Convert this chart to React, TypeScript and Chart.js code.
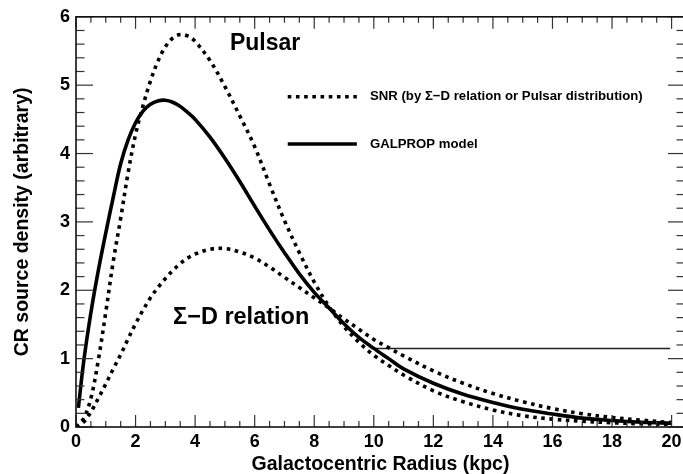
import React, { useEffect, useRef } from "react";
import { Chart, registerables } from "chart.js";

Chart.register(...registerables);

// ---------------- data ----------------
const radius = [0, 0.25, 0.5, 0.75, 1, 1.25, 1.5, 1.75, 2, 2.25, 2.5, 2.75, 3, 3.25, 3.5, 3.75, 4, 4.5, 5, 5.5, 6, 6.5, 7, 7.5, 8, 8.5, 9, 9.5, 10, 10.5, 11, 12, 13, 14, 15, 16, 17, 18, 19, 20];

const pulsar = [0, 0.12, 0.42, 0.98, 1.68, 2.42, 3.05, 3.72, 4.28, 4.7, 5.06, 5.35, 5.56, 5.69, 5.74, 5.72, 5.64, 5.36, 4.98, 4.55, 4.1, 3.55, 3.02, 2.55, 2.12, 1.76, 1.47, 1.24, 1.05, 0.9, 0.76, 0.53, 0.37, 0.25, 0.165, 0.115, 0.085, 0.062, 0.047, 0.036];

const sigmaD = [0, 0.07, 0.22, 0.42, 0.63, 0.85, 1.06, 1.29, 1.51, 1.71, 1.89, 2.04, 2.17, 2.29, 2.39, 2.47, 2.53, 2.6, 2.61, 2.56, 2.47, 2.34, 2.19, 2.04, 1.89, 1.74, 1.58, 1.43, 1.28, 1.16, 1.04, 0.82, 0.64, 0.49, 0.37, 0.27, 0.195, 0.14, 0.1, 0.065];

const galpropRadius = [0.08, 0.25, 0.5, 0.75, 1, 1.25, 1.5, 1.75, 2, 2.25, 2.5, 2.75, 3, 3.25, 3.5, 3.75, 4, 4.5, 5, 5.5, 6, 6.5, 7, 7.5, 8, 8.5, 9, 9.5, 10, 10.5, 11, 12, 13, 14, 15, 16, 17, 18, 19, 20];

const galprop = [0.28, 0.93, 1.67, 2.29, 2.84, 3.36, 3.85, 4.2, 4.45, 4.62, 4.72, 4.77, 4.78, 4.75, 4.69, 4.6, 4.5, 4.24, 3.93, 3.59, 3.23, 2.88, 2.55, 2.24, 1.97, 1.74, 1.51, 1.31, 1.15, 1.0, 0.85, 0.64, 0.48, 0.36, 0.26, 0.19, 0.13, 0.095, 0.07, 0.055];

const markerRadius = [10.0, 19.95];
const markerLevel = [1.15, 1.15];

const xTickValues = [0, 2, 4, 6, 8, 10, 12, 14, 16, 18, 20];
const yTickValues = [0, 1, 2, 3, 4, 5, 6];

const xTitle = "Galactocentric Radius (kpc)";
const yTitle = "CR source density (arbitrary)";
const pulsarLabel = "Pulsar";
const sigmaLabel = "\u03A3\u2212D relation";
const legendSnr = "SNR (by \u03A3\u2212D relation or Pulsar distribution)";
const legendGalprop = "GALPROP model";

// ---------------- styling ----------------
const FONT = '"Liberation Sans", Arial, Helvetica, sans-serif';
const X_MAX = 20.45;
const DOT_WIDTH = 3.6;
const DOT_DASH = [3.6, 4.6];
const SOLID_WIDTH = 3.6;

const framePlugin = {
  id: "rootFrame",
  afterDatasetsDraw(chart: any) {
    const { ctx, chartArea: a, scales } = chart;
    const x = scales.x;
    const y = scales.y;
    ctx.save();
    const line = (x1: number, y1: number, x2: number, y2: number) => {
      ctx.beginPath();
      ctx.moveTo(x1, y1);
      ctx.lineTo(x2, y2);
      ctx.stroke();
    };
    ctx.strokeStyle = "#333";
    ctx.lineWidth = 1.2;
    // x ticks: major every 2, minor every 0.5
    for (let i = 0; i * 0.5 <= x.max + 1e-9; i++) {
      const px = x.getPixelForValue(i * 0.5);
      const major = i % 4 === 0;
      const len = major ? 12 : 6;
      line(px, a.bottom, px, a.bottom - len);
      line(px, a.top, px, a.top + len);
    }
    // y ticks: major every 1, minor every 0.2
    for (let i = 0; i * 0.2 <= y.max + 1e-9; i++) {
      const py = y.getPixelForValue(i * 0.2);
      const major = i % 5 === 0;
      const len = major ? 17 : 8.5;
      line(a.left, py, a.left + len, py);
      line(a.right, py, a.right - len, py);
    }
    ctx.strokeStyle = "#111";
    ctx.lineWidth = 1.6;
    ctx.strokeRect(a.left, a.top, a.right - a.left, a.bottom - a.top);
    ctx.restore();
  },
  afterDraw(chart: any) {
    const { ctx, scales } = chart;
    const x = scales.x;
    const y = scales.y;
    ctx.save();
    ctx.fillStyle = "#000";
    ctx.textAlign = "left";
    ctx.textBaseline = "alphabetic";
    ctx.font = `bold 23px ${FONT}`;
    ctx.fillText(pulsarLabel, x.getPixelForValue(5.17), y.getPixelForValue(5.52));
    ctx.font = `bold 23.5px ${FONT}`;
    ctx.fillText(sigmaLabel, x.getPixelForValue(3.26), y.getPixelForValue(1.5));

    // legend
    const lx1 = x.getPixelForValue(7.11);
    const lx2 = x.getPixelForValue(9.43);
    const ly1 = y.getPixelForValue(4.83);
    const ly2 = y.getPixelForValue(4.14);
    ctx.strokeStyle = "#000";
    ctx.lineCap = "butt";
    ctx.lineWidth = DOT_WIDTH;
    ctx.setLineDash(DOT_DASH);
    ctx.beginPath();
    ctx.moveTo(lx1, ly1);
    ctx.lineTo(lx2, ly1);
    ctx.stroke();
    ctx.setLineDash([]);
    ctx.lineWidth = SOLID_WIDTH;
    ctx.beginPath();
    ctx.moveTo(lx1, ly2);
    ctx.lineTo(lx2, ly2);
    ctx.stroke();
    ctx.font = `bold 13.2px ${FONT}`;
    ctx.textBaseline = "middle";
    const tx = x.getPixelForValue(9.87);
    ctx.fillText(legendSnr, tx, ly1);
    ctx.fillText(legendGalprop, tx, ly2);
    ctx.restore();
  },
};

export default function App() {
  const ref = useRef<HTMLCanvasElement>(null);

  useEffect(() => {
    const canvas = ref.current;
    if (!canvas) return;
    const tickFont = { family: FONT, weight: "bold" as const, size: 18 };
    const titleFont = { family: FONT, weight: "bold" as const, size: 19.5, lineHeight: 1 };
    const curve = {
      borderColor: "#000",
      pointRadius: 0,
      fill: false,
      tension: 0.35,
    };
    const chart = new Chart(canvas, {
      type: "line",
      data: {
        datasets: [
          {
            ...curve,
            label: "Pulsar",
            data: radius.map((r, i) => ({ x: r, y: pulsar[i] })),
            borderWidth: DOT_WIDTH,
            borderDash: DOT_DASH,
            borderCapStyle: "butt",
          },
          {
            ...curve,
            label: "Sigma-D",
            data: radius.map((r, i) => ({ x: r, y: sigmaD[i] })),
            borderWidth: DOT_WIDTH,
            borderDash: DOT_DASH,
            borderCapStyle: "butt",
          },
          {
            ...curve,
            label: "GALPROP",
            data: galpropRadius.map((r, i) => ({ x: r, y: galprop[i] })),
            borderWidth: SOLID_WIDTH,
          },
          {
            label: "marker",
            data: markerRadius.map((r, i) => ({ x: r, y: markerLevel[i] })),
            borderColor: "#222",
            borderWidth: 1.5,
            pointRadius: 0,
            fill: false,
            tension: 0,
          },
        ],
      },
      options: {
        animation: false,
        responsive: false,
        devicePixelRatio: 1,
        layout: { padding: { top: 11.5, right: 5, bottom: 0, left: 0 } },
        plugins: { legend: { display: false }, tooltip: { enabled: false } },
        scales: {
          x: {
            type: "linear",
            min: 0,
            max: X_MAX,
            afterFit: (s: any) => {
              s.height = 47;
            },
            afterBuildTicks: (s: any) => {
              s.ticks = xTickValues.map((v) => ({ value: v }));
            },
            grid: { display: false, drawTicks: false },
            border: { display: false },
            ticks: { font: tickFont, color: "#000", padding: 4, maxRotation: 0, autoSkip: false },
            title: { display: true, text: xTitle, font: titleFont, color: "#000", padding: { top: 0, bottom: 0 } },
          },
          y: {
            type: "linear",
            min: 0,
            max: 6,
            afterFit: (s: any) => {
              s.width = 76;
            },
            afterBuildTicks: (s: any) => {
              s.ticks = yTickValues.map((v) => ({ value: v }));
            },
            grid: { display: false, drawTicks: false },
            border: { display: false },
            ticks: { font: tickFont, color: "#000", padding: 6, autoSkip: false },
            title: { display: true, text: yTitle, font: titleFont, color: "#000", padding: { top: 12.5, bottom: 0 } },
          },
        },
      },
      plugins: [framePlugin],
    } as any);
    return () => chart.destroy();
  }, []);

  return (
    <div style={{ position: "absolute", left: 0, top: 0, width: 683, height: 474, overflow: "hidden", background: "#fff" }}>
      <canvas ref={ref} width={690} height={474} style={{ display: "block", width: 690, height: 474 }} />
    </div>
  );
}
